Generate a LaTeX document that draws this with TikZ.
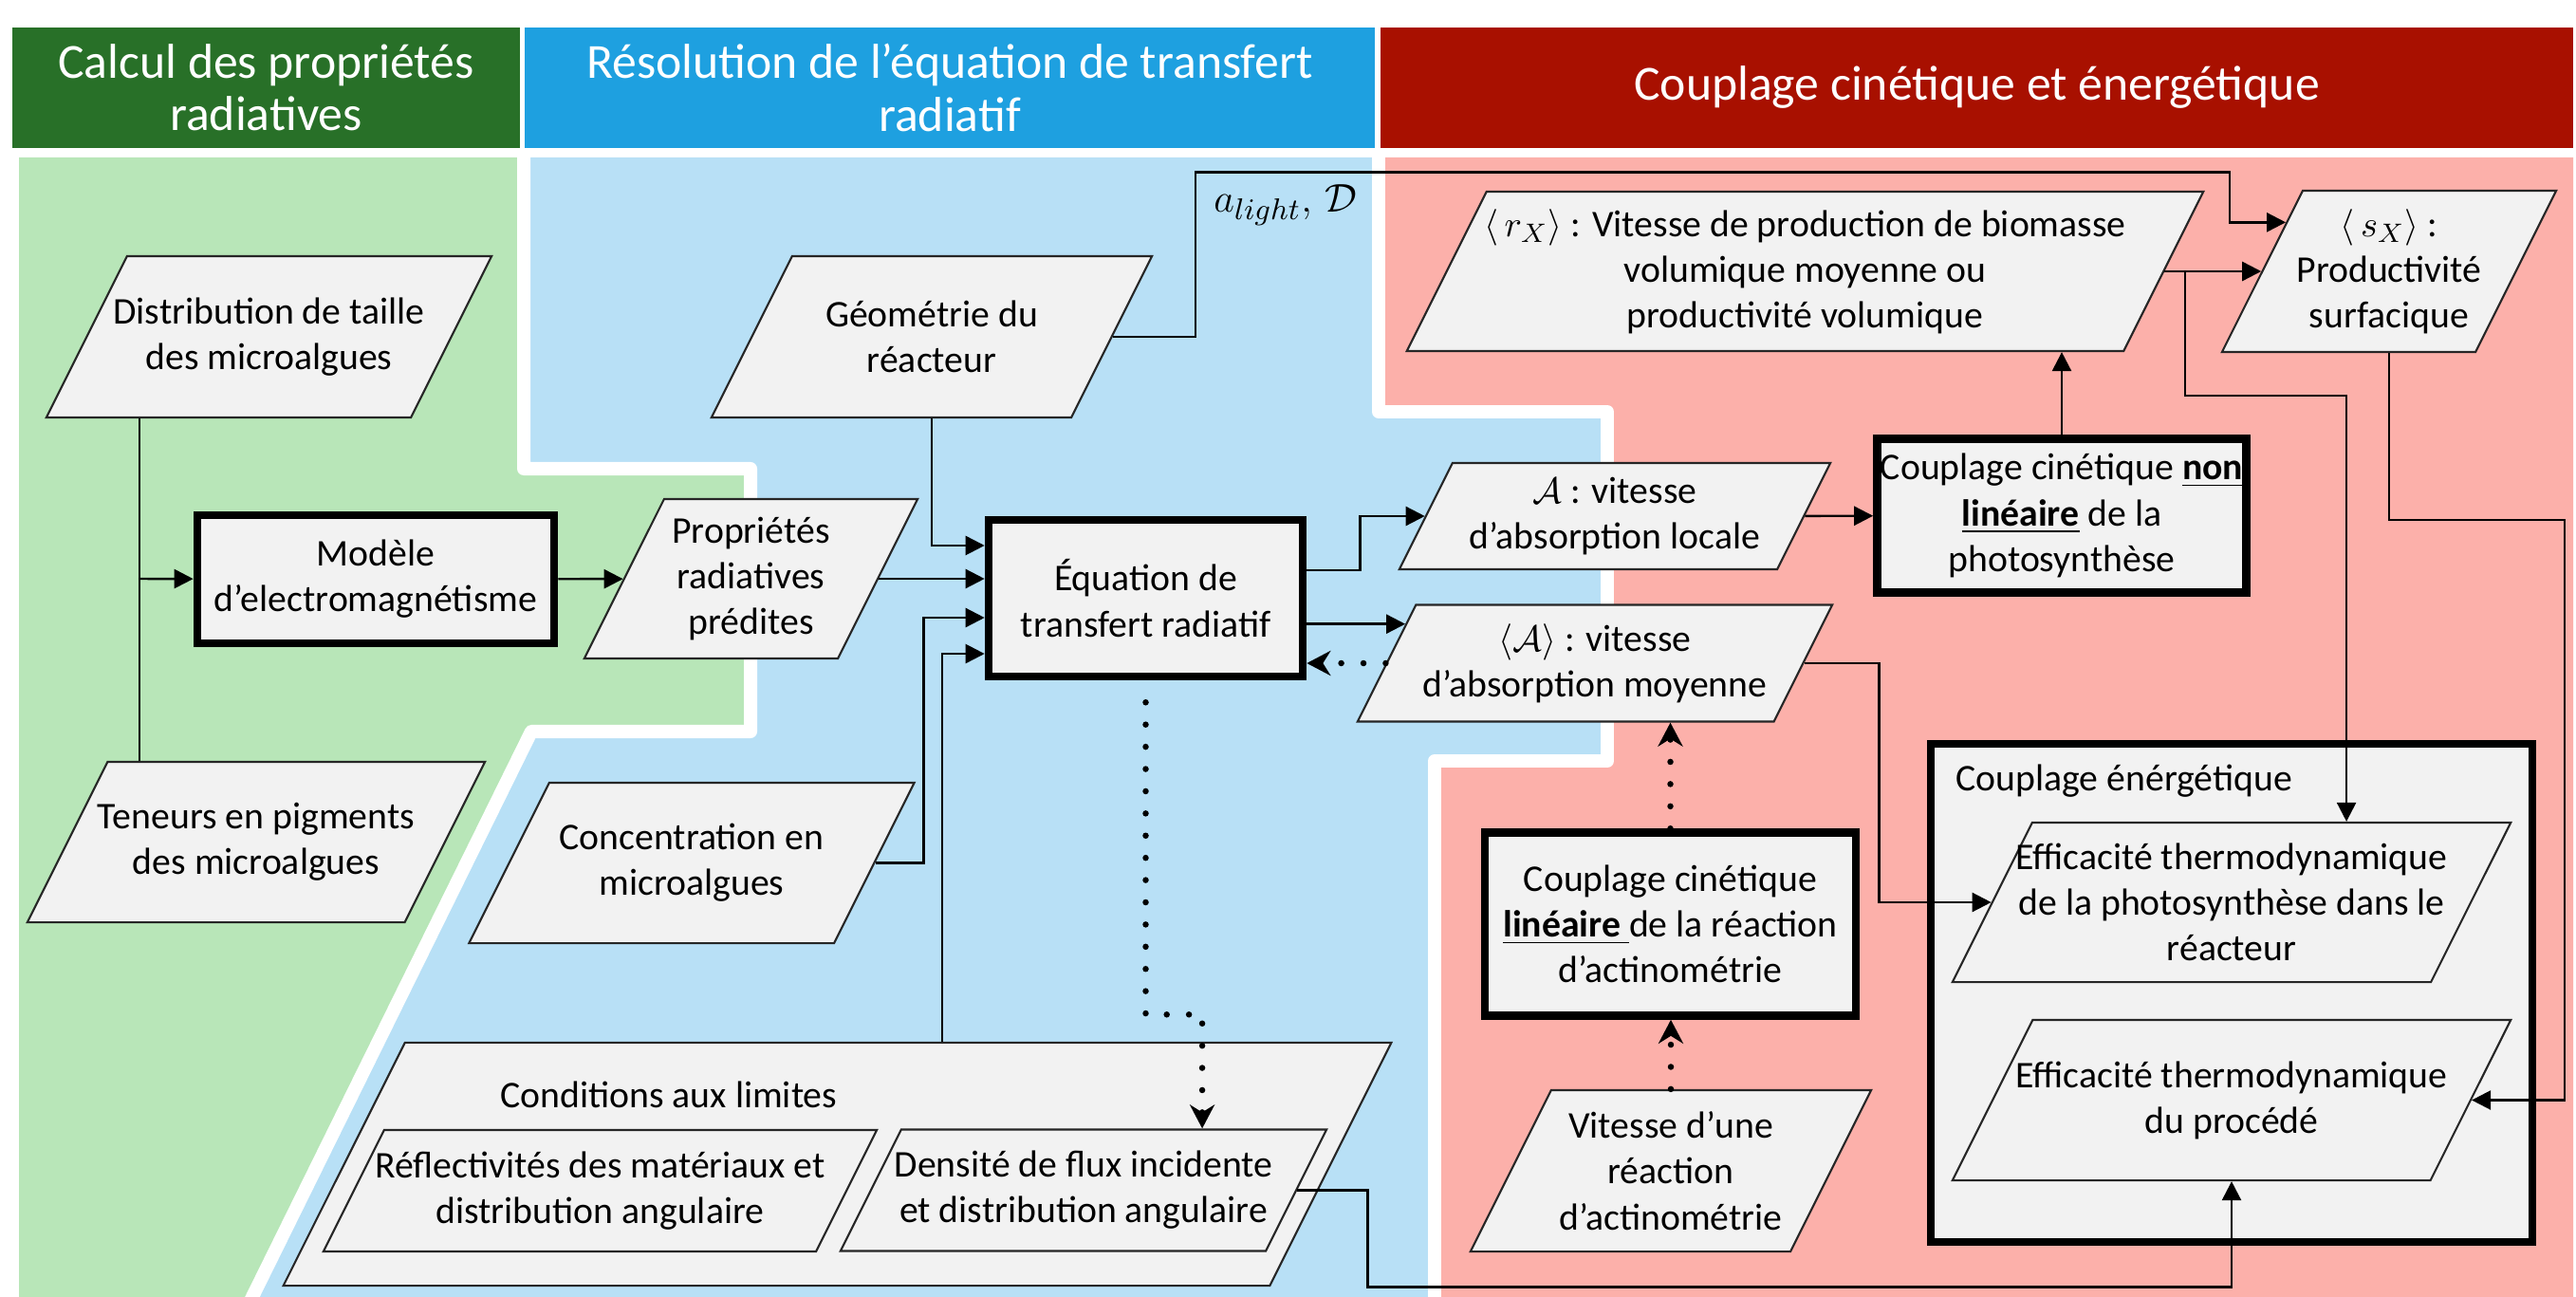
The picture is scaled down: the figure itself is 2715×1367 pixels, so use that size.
\documentclass[tikz,border=0pt]{standalone}
\usepackage{fontspec}
\setmainfont{Carlito}
\usepackage{amsmath}
\usepackage{xcolor}
\usepackage{tikz}
\usetikzlibrary{positioning, arrows.meta, shapes.geometric, calc}

\definecolor{hdgreen}{RGB}{40,112,40}
\definecolor{hdblue}{RGB}{30,160,224}
\definecolor{hdred}{RGB}{168,16,0}
\definecolor{bggreen}{RGB}{184,230,184}
\definecolor{bgblue}{RGB}{184,224,246}
\definecolor{bgred}{RGB}{252,176,170}
\definecolor{boxfill}{RGB}{242,242,242}

\begin{document}
\begin{tikzpicture}[
  x=0.01cm, y=-0.01cm,
  every node/.style={font=\fontsize{11.3}{13.7}\selectfont},
  header/.style={
    rectangle, minimum height=1.27cm, inner sep=0pt,
    text=white, align=center,
    font=\fontsize{14.7}{15.7}\selectfont,
  },
  region/.style={draw=white, line width=0.14cm, line join=round},
  % width, height, text
  datum/.style n args={3}{
    trapezium, trapezium left angle=63.43, trapezium right angle=116.57,
    minimum width=0pt, minimum height=0pt,
    inner xsep={(#1-#2)/2}, inner ysep={#2/2},
    draw=black!85, line width=0.6pt, fill=boxfill,
    label={[align=center]center:{#3}},
  },
  process/.style 2 args={
    rectangle, minimum width=#1, minimum height=#2,
    draw=black, line width=2.4pt, fill=boxfill,
    inner sep=1pt, align=center,
  },
  wire/.style={line width=0.7pt},
  arr/.style={wire, -{Triangle[length=0.2cm,width=0.2cm]}},
  dots/.style={-{Stealth[length=0.25cm,width=0.26cm,inset=0.08cm]},
    line width=0.065cm, line cap=round, dash pattern=on 0pt off 0.234cm},
]
  \useasboundingbox (0,0) rectangle (2715,1367);
  \fill[white] (0,0) rectangle (2715,1367);

  % background bands
  \fill[bggreen] (20,166) -- (552,166) -- (552,494) -- (791,494) -- (791,771)
    -- (560,771) -- (265,1367) -- (20,1367) -- cycle;
  \fill[bgblue] (552,166) -- (1453,166) -- (1453,434) -- (1694,434) -- (1694,802)
    -- (1512,802) -- (1512,1367) -- (265,1367) -- (560,771) -- (791,771)
    -- (791,494) -- (552,494) -- cycle;
  \fill[bgred] (1453,166) -- (2712,166) -- (2712,1367) -- (1512,1367)
    -- (1512,802) -- (1694,802) -- (1694,434) -- (1453,434) -- cycle;
  \draw[region] (552,160) -- (552,494) -- (791,494) -- (791,771) -- (560,771) -- (262,1375);
  \draw[region] (1453,160) -- (1453,434) -- (1694,434) -- (1694,802) -- (1512,802) -- (1512,1375);

  \node[header, fill=hdgreen, minimum width=5.35cm] (hcalc) at (280.5,92.5) {Calcul des propriétés\\radiatives};
  \node[header, fill=hdblue, minimum width=8.96cm] (hrte) at (1001,92.5) {Résolution de l’équation de transfert\\radiatif};
  \node[header, fill=hdred, minimum width=12.57cm] (hcoupl) at (2083.5,92.5) {Couplage cinétique et énergétique};

  % radiative properties
  \node[datum={4.69cm}{1.70cm}{Distribution de taille\\des microalgues}] (dist) at (283.5,355) {};
  \node[datum={4.82cm}{1.69cm}{Teneurs en pigments\\des microalgues}] (pigm) at (270,887.5) {};
  \node[process={3.76cm}{1.35cm}] (emag) at (396,610.5) {Modèle\\d’electromagnétisme};
  \node[datum={3.51cm}{1.68cm}{Propriétés\\radiatives\\prédites}] (prop) at (791.5,610) {};

  % radiative transfer
  \node[datum={4.64cm}{1.70cm}{Géométrie du\\réacteur}] (geom) at (982,355) {};
  \node[datum={4.69cm}{1.69cm}{Concentration en\\microalgues}] (conc) at (729,909.5) {};
  \node[process={3.31cm}{1.65cm}] (rte) at (1207.5,630.5) {Équation de\\transfert radiatif};
  \node[datum={11.67cm}{2.56cm}{}] (limits) at (882.5,1227) {};
  \node (limlabel) at (705,1154) {Conditions aux limites};
  \node[datum={5.83cm}{1.28cm}{Réflectivités des matériaux et\\distribution angulaire}] (refl) at (632.5,1255) {};
  \node[datum={5.12cm}{1.28cm}{Densité de flux incidente\\et distribution angulaire}] (flux) at (1142,1254.5) {};
  \node[font=\fontsize{13}{15}\selectfont] (alight) at (1355,216) {$a_{light},\,\mathcal{D}$};

  % kinetic and energetic coupling
  \node[datum={4.54cm}{1.12cm}{$\mathcal{A}$ : vitesse\\d’absorption locale}] (aloc) at (1702,544) {};
  \node[datum={5.00cm}{1.23cm}{$\langle\mathcal{A}\rangle$ : vitesse\\d’absorption moyenne}] (amoy) at (1681,699) {};
  \node[process={3.88cm}{1.62cm}] (nonlin) at (2173,543.5) {Couplage cinétique \underline{\textbf{non}}\\\underline{\textbf{linéaire}} de la\\photosynthèse};
  \node[datum={8.39cm}{1.68cm}{$\langle\, r_X\rangle$ : Vitesse de production de biomasse\\volumique moyenne ou\\productivité volumique}] (rx) at (1902.5,286) {};
  \node[datum={3.52cm}{1.70cm}{$\langle\, s_X\rangle$ :\\Productivité\\surfacique}] (sx) at (2518,286) {};
  \node[process={6.34cm}{5.25cm}] (energ) at (2352,1046.5) {};
  \node[anchor=west] (energlabel) at (2049,823) {Couplage énérgétique};
  \node[datum={5.88cm}{1.68cm}{Efficacité thermodynamique\\de la photosynthèse dans le\\réacteur}] (effphot) at (2352,951) {};
  \node[datum={5.88cm}{1.69cm}{Efficacité thermodynamique\\du procédé}] (effproc) at (2352,1159.5) {};
  \node[process={3.91cm}{1.93cm}] (lin) at (1760.5,974) {Couplage cinétique\\\underline{\textbf{linéaire}\ }de la réaction\\d’actinométrie};
  \node[datum={4.22cm}{1.70cm}{Vitesse d’une\\réaction\\d’actinométrie}] (actino) at (1761,1234) {};

  \coordinate (split) at (147,610);
  \coordinate (sxin) at ($(sx.bottom left corner)!0.8!(sx.top left corner)$);
  \coordinate (amoyin) at ($(amoy.bottom left corner)!0.83!(amoy.top left corner)$);

  \draw[wire] (dist.south -| split) -- (pigm.north -| split);
  \draw[arr] (split) -- (emag);
  \draw[arr] (emag) -- (prop);
  \draw[arr] (prop.east) -- (rte.west |- prop.east);
  \draw[arr] (geom.south) |- ([yshift=0.555cm]rte.west);
  \draw[arr] (conc.east) -- ++(51,0) |- ([yshift=-0.205cm]rte.west);
  \draw[arr] ([xshift=1.105cm]limits.north) |- ([yshift=-0.585cm]rte.west);
  \draw[arr] (geom.east) -- ++(87,0) |- ($(sxin)+(-59,-53)$) |- (sxin);

  \draw[arr] ([yshift=0.295cm]rte.east) -- ++(56,0) |- (aloc.west);
  \draw[arr] (rte.east |- amoyin) -- (amoyin);
  \draw[dots] (amoy.west) -- (rte.east |- amoy.west);
  \draw[arr] (aloc) -- (nonlin);
  \draw[arr] (nonlin.north) -- (nonlin.north |- rx.south);
  \draw[arr] (rx.east) -- (sx.west);
  \draw[arr] ([xshift=0.215cm]rx.east) -- ++(0,131) -| ([xshift=1.21cm]effphot.north);
  \draw[arr] (sx.south) |- ++(185,176) |- (effproc.east);
  \draw[arr] (amoy.east) -- ++(79,0) |- (effphot.west);
  \draw[arr] (flux.east) -- ++(74,0) -- ++(0,102) -| (effproc.south);

  \draw[dots] ([yshift=-0.23cm]rte.south) -- ++(0,329) -| ([xshift=1.25cm]flux.north);
  \draw[dots] (actino.north) -- (actino.north |- lin.south);
  \draw[dots] (lin.north) -- (lin.north |- amoy.south);
\end{tikzpicture}
\end{document}
